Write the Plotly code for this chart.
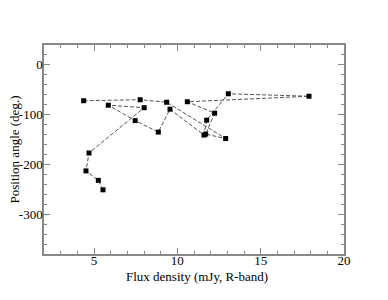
import plotly.graph_objects as go

flux = [4.38, 7.77, 9.36, 12.9, 11.7, 12.24, 10.6, 17.9, 13.06, 11.76,
        11.6, 9.56, 8.86, 7.47, 5.86, 8.01, 4.70, 4.52, 5.26, 5.54]
angle = [-72, -70, -75, -148, -139, -97, -74, -63, -58, -111,
         -141, -89, -135, -112, -81, -86, -177, -213, -232, -251]
y_tickvals = [0, -100, -200, -300]
y_ticktext = ["0", "-100", "-200", "-300"]
x_tickvals = [5, 10, 15, 20]
x_ticktext = ["5", "10", "15", "20"]

fig = go.Figure()
fig.add_trace(go.Scatter(
    x=flux, y=angle, mode="lines+markers",
    line=dict(color="#555555", width=1, dash="4px,2px"),
    marker=dict(symbol="square", size=5, color="black"),
    showlegend=False,
))

font = dict(family="Liberation Serif, Times New Roman, serif", size=13, color="black")
axis_common = dict(
    showgrid=False, zeroline=False, showline=True, linecolor="#888888", linewidth=1.5,
    mirror="ticks", ticks="inside", ticklen=6, tickcolor="#888888", tickwidth=1.2,
    tickfont=font, automargin=False,
)
fig.update_xaxes(range=[2, 20], tickmode="array", tickvals=x_tickvals, ticktext=x_ticktext,
                 minor=dict(dtick=1, tick0=0, ticks="inside", ticklen=3, tickcolor="#888888", tickwidth=1),
                 ticklabelstandoff=-6,
                 **axis_common)
fig.update_yaxes(range=[-380, 40], tickmode="array", tickvals=y_tickvals, ticktext=y_ticktext,
                 minor=dict(dtick=20, tick0=0, ticks="inside", ticklen=3, tickcolor="#888888", tickwidth=1),
                 ticklabelstandoff=-3,
                 **axis_common)
fig.add_annotation(text="Flux density (mJy, R-band)", xref="paper", yref="paper",
                   x=0.51, y=0, xanchor="center", yanchor="middle", yshift=-22,
                   showarrow=False, font=font)
fig.add_annotation(text="Position angle (deg.)", xref="paper", yref="paper",
                   x=0, y=0.5, xanchor="center", yanchor="middle", xshift=-30,
                   textangle=-90, showarrow=False, font=font)
fig.update_layout(
    width=388, height=300,
    margin=dict(l=36, r=52, t=37, b=54),
    paper_bgcolor="white", plot_bgcolor="white",
    font=font,
)
fig.write_html("out.html")
